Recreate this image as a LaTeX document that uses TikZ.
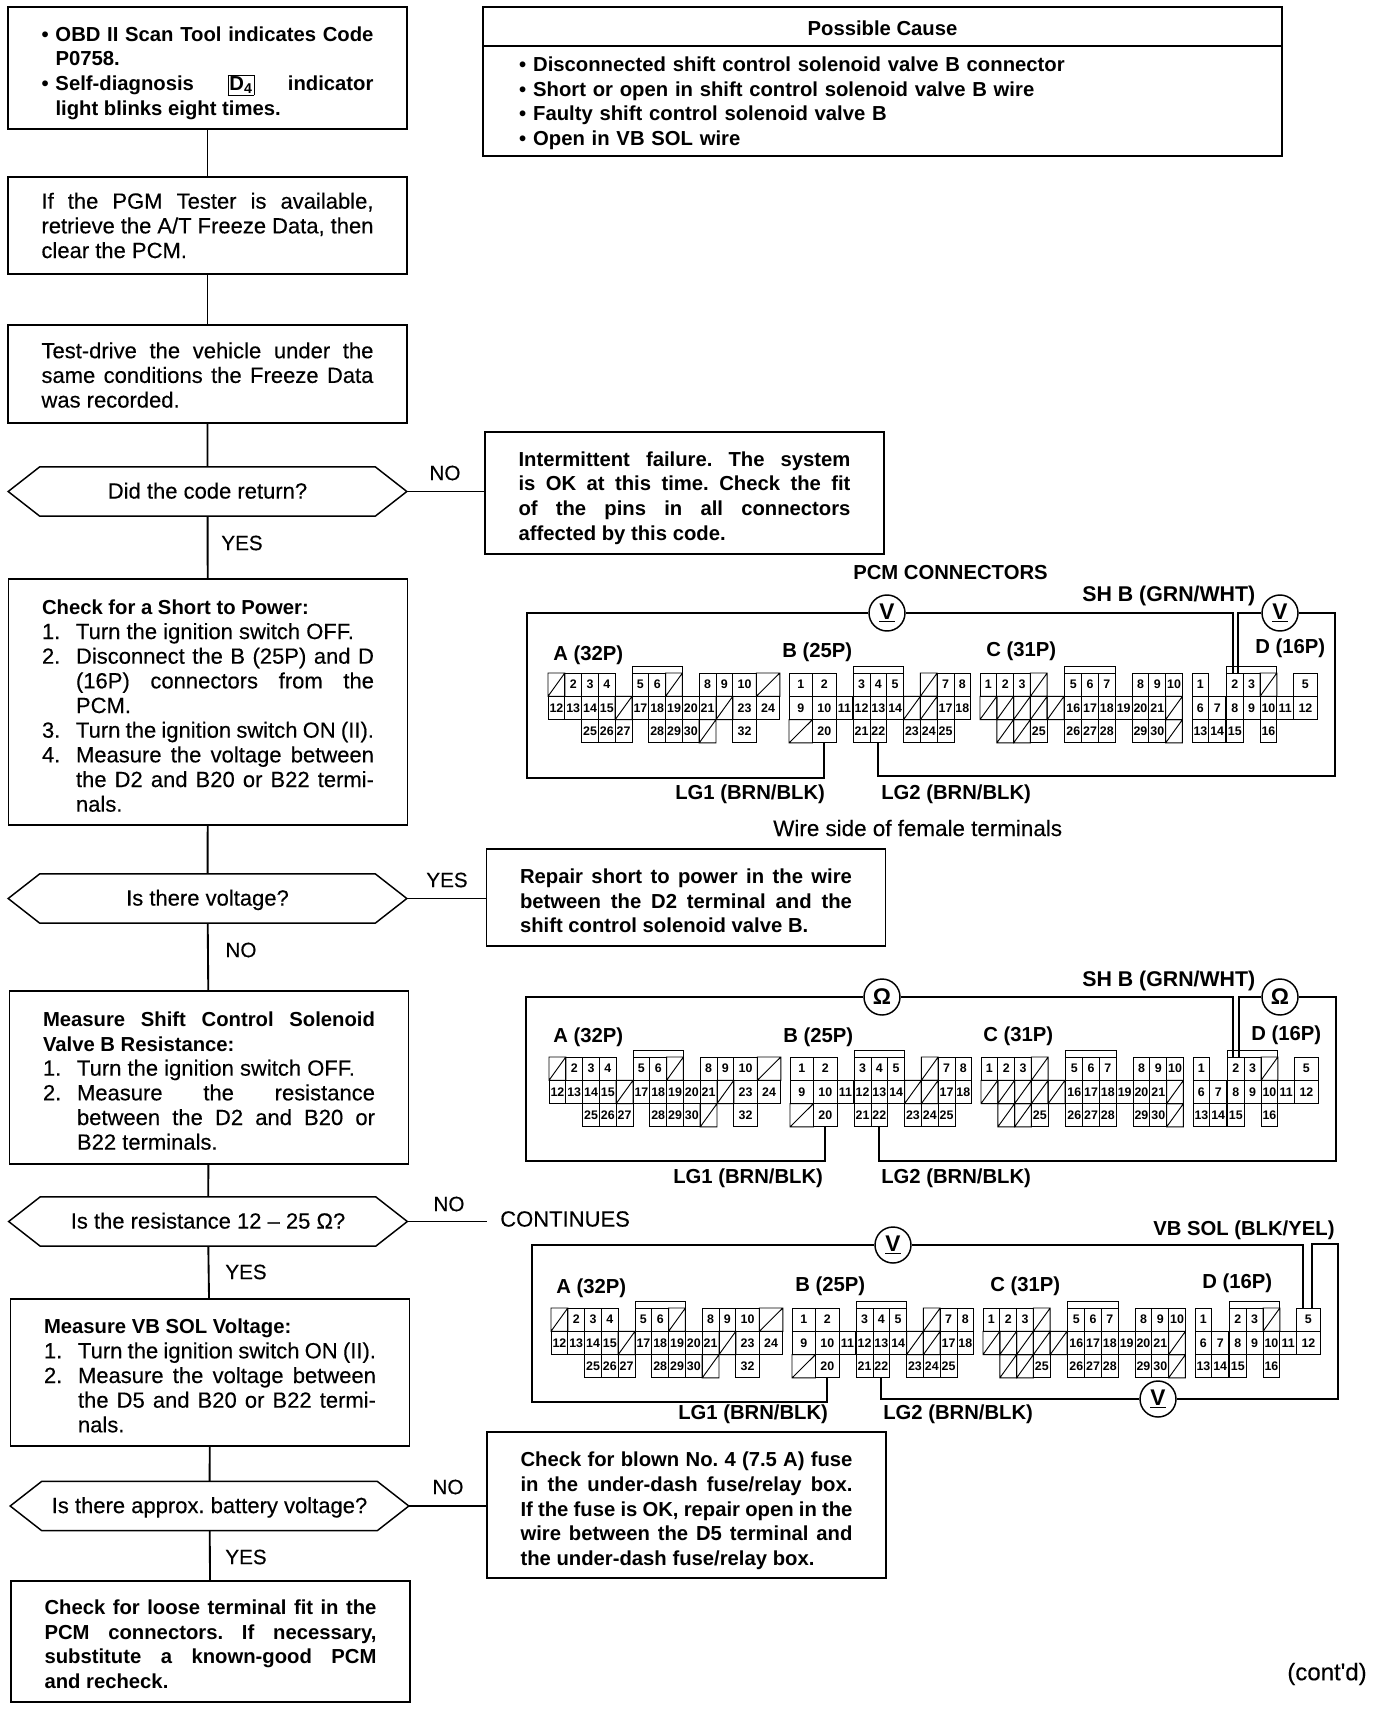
\documentclass[tikz,border=0pt]{standalone}
\usepackage{fontspec}
\setmainfont{Liberation Sans}
\newfontfamily\scanfont[FakeBold=0.3]{Liberation Sans}
\usetikzlibrary{shapes.symbols}
\frenchspacing
\tolerance=9999

\newcommand{\bodysize}{\scanfont\fontsize{16.5}{18.5}\selectfont}
\newcommand{\boldsize}{\normalfont\bfseries\fontsize{15.2}{18.5}\selectfont}
\newcommand{\stepitem}[2]{\par\noindent\hangindent=25.5pt\hangafter=1\hbox to 25.5pt{#1\hfil}#2\par}
\newcommand{\bulitem}[1]{\par\noindent\hangindent=10.5pt\hangafter=1\hbox to 10.5pt{\textbullet\hfil}#1\par}

\newcommand{\pinrows}[2]{\foreach \x/\y/\lab in {#2} \node[pin] (#1\lab) at (\x+.5,\y+.5) {\lab};}
\newcommand{\pinwide}[2]{\foreach \x/\y/\lab in {#2} \node[pin,minimum width=17.64pt] (#1\lab) at (\x+.7,\y+.5) {\lab};}
\newcommand{\hatchcells}[1]{\foreach \x/\y/\w in {#1} \draw[pinline] (\x,\y) rectangle +(\w,1) (\x,\y+1) -- +(\w,-1);}

\newcommand{\pcmpins}{
  \pinrows{a}{1/0/2,2/0/3,3/0/4,5/0/5,6/0/6,9/0/8,10/0/9,
    0/1/12,1/1/13,2/1/14,3/1/15,5/1/17,6/1/18,7/1/19,8/1/20,9/1/21,
    2/2/25,3/2/26,4/2/27,6/2/28,7/2/29,8/2/30}
  \pinwide{a}{11/0/10,11/1/23,12.4/1/24,11/2/32}
  \hatchcells{0/0/1,7/0/1,12.4/0/1.4,4/1/1,10/1/1,9/2/1}
  \draw[pinline] (5,0) |- (8,-.3) -- (8,0);
  \begin{scope}[xshift=180.75pt]
    \pinrows{b}{3.82/0/3,4.82/0/4,5.82/0/5,8.82/0/7,9.82/0/8,
      2.8/1/11,3.82/1/12,4.82/1/13,5.82/1/14,8.82/1/17,9.82/1/18,
      3.82/2/21,4.82/2/22,6.82/2/23,7.82/2/24,8.82/2/25}
    \pinwide{b}{0/0/1,1.4/0/2,0/1/9,1.4/1/10,1.4/2/20}
    \hatchcells{7.82/0/1,6.82/1/1,7.82/1/1,0/2/1.4}
    \draw[pinline] (3.82,0) |- (6.82,-.3) -- (6.82,0);
  \end{scope}
  \begin{scope}[xshift=324pt]
    \pinrows{c}{0/0/1,1/0/2,2/0/3,5.05/0/5,6.05/0/6,7.05/0/7,9.05/0/8,10.05/0/9,11.05/0/10,
      5.05/1/16,6.05/1/17,7.05/1/18,8.05/1/19,9.05/1/20,10.05/1/21,
      3/2/25,5.05/2/26,6.05/2/27,7.05/2/28,9.05/2/29,10.05/2/30}
    \hatchcells{3/0/1,0/1/1,1/1/1,2/1/1,3/1/1,4/1/1,11.05/1/1,1/2/1,2/2/1,11.05/2/1}
    \draw[pinline] (5.05,0) |- (8.05,-.3) -- (8.05,0);
  \end{scope}
  \begin{scope}[xshift=483pt]
    \pinrows{d}{0/0/1,2.05/0/2,3.05/0/3,
      0/1/6,1/1/7,2.05/1/8,3.05/1/9,4.05/1/10,5.05/1/11,
      0/2/13,1/2/14,2.05/2/15,4.05/2/16}
    \pinwide{d}{6.05/0/5,6.05/1/12}
    \hatchcells{4.05/0/1}
    \draw[pinline] (2.05,0) |- (5.05,-.3) -- (5.05,0);
  \end{scope}
}

\begin{document}
\begin{tikzpicture}[x=0.75pt,y=-0.75pt,
  flowbox/.style={draw,line width=1.1pt,rectangle,inner xsep=0pt,inner ysep=0pt,outer sep=0pt,
    text width=249pt,align=justify,minimum width=299pt,font=\bodysize},
  textdown/.style={execute at begin node={\rule{0pt}{\dimexpr 11pt+#1\relax}}},
  flowdec/.style={draw,line width=1.1pt,shape=signal,signal to=east and west,signal pointer angle=76,
    inner sep=0pt,outer sep=0pt,minimum width=299pt,minimum height=37pt,font=\bodysize,
    text height=13pt,text depth=2.4pt},
  flowlab/.style={anchor=center,inner sep=0pt,font=\scanfont\fontsize{15.5}{18}\selectfont},
  conlab/.style={anchor=west,inner sep=0pt,font=\bfseries\fontsize{15.2}{18}\selectfont},
  pin/.style={draw,pinline,rectangle,inner sep=0pt,outer sep=0pt,minimum width=12.6pt,minimum height=17.475pt,
    font=\bfseries\fontsize{9.3}{10}\selectfont},
  pinline/.style={line width=0.7pt},
  meter/.style={draw,line width=1.1pt,circle,fill=white,inner sep=0pt,minimum size=27pt,
    font=\bfseries\fontsize{17}{18}\selectfont},
  wire/.style={line width=1.4pt}]
  \useasboundingbox (0,0) rectangle (1376,1710);

  \node[flowbox,minimum height=91.5pt,font=\boldsize] (start) at (207.5,68)
    {\bulitem{OBD II Scan Tool indicates Code\linebreak P0758.}
     \bulitem{Self-diagnosis \fboxsep=1pt\fbox{D\textsubscript{4}} indicator\linebreak light blinks eight times.}};
  \node[flowbox,minimum height=73pt] (freeze) at (207.5,225.5)
    {If the PGM Tester is available,\linebreak retrieve the A/T Freeze Data, then\linebreak clear the PCM.};
  \node[flowbox,minimum height=73.5pt,textdown=2.5pt] (drive) at (207.5,374)
    {Test-drive the vehicle under the\linebreak same conditions the Freeze Data\linebreak was recorded.};
  \node[flowdec] (coderet) at (207.5,491.5) {Did the code return?};
  \node[flowbox,minimum height=91.5pt,font=\boldsize,textdown=7.4pt] (intermit) at (684.5,493)
    {\leftskip=2.2pt\rightskip=-2.2pt Intermittent failure. The system\linebreak is OK at this time. Check the fit\linebreak of the pins in all connectors\linebreak affected by this code.};
  \node[flowbox,minimum height=184.5pt,textdown=5.7pt] (shortchk) at (208,702)
    {{\boldsize Check for a Short to Power:}\par
     \stepitem{1.}{Turn the ignition switch OFF.}
     \stepitem{2.}{Disconnect the B (25P) and D\linebreak (16P) connectors from the\linebreak PCM.}
     \stepitem{3.}{Turn the ignition switch ON (II).}
     \stepitem{4.}{Measure the voltage between\linebreak the D2 and B20 or B22 termi-\linebreak nals.}};
  \node[flowdec] (voltage) at (207.5,898.5) {Is there voltage?};
  \node[flowbox,minimum height=73pt,font=\boldsize,textdown=4.9pt] (repair) at (686,897.5)
    {Repair short to power in the wire\linebreak between the D2 terminal and the\linebreak shift control solenoid valve B.};
  \node[flowbox,minimum height=130pt,textdown=4.9pt] (resist) at (209,1077.5)
    {{\boldsize Measure Shift Control Solenoid\linebreak Valve B Resistance:}\par
     \stepitem{1.}{Turn the ignition switch OFF.}
     \stepitem{2.}{Measure the resistance\linebreak between the D2 and B20 or\linebreak B22 terminals.}};
  \node[flowdec] (ohmdec) at (208,1221.5) {Is the resistance 12 – 25 Ω?};
  \coordinate (contend) at (487,1221.5);
  \node[conlab,font=\scanfont\fontsize{16.5}{18}\selectfont] (contin) at (500,1219) {CONTINUES};
  \node[flowbox,minimum height=110pt,textdown=4.9pt] (vbsol) at (210,1372.5)
    {{\boldsize Measure VB SOL Voltage:}\par
     \stepitem{1.}{Turn the ignition switch ON (II).}
     \stepitem{2.}{Measure the voltage between\linebreak the D5 and B20 or B22 termi-\linebreak nals.}};
  \node[flowdec] (battery) at (209.5,1506) {Is there approx. battery voltage?};
  \node[flowbox,minimum height=109.5pt,font=\boldsize,textdown=9pt] (fuse) at (686.5,1505)
    {Check for blown No. 4 (7.5 A) fuse\linebreak in the under-dash fuse/relay box.\linebreak If the fuse is OK, repair open in the\linebreak wire between the D5 terminal and\linebreak the under-dash fuse/relay box.};
  \node[flowbox,minimum height=91pt,font=\boldsize,textdown=4pt] (recheck) at (210.5,1641.5)
    {Check for loose terminal fit in the\linebreak PCM connectors. If necessary,\linebreak substitute a known-good PCM\linebreak and recheck.};

  \node[draw,line width=1.1pt,rectangle,inner sep=0pt,outer sep=0pt,minimum width=599pt,minimum height=29.5pt,
    text height=16.5pt,text depth=3pt,font=\boldsize] (causehead) at (882.5,26.5) {Possible Cause};
  \node[draw,line width=1.1pt,rectangle,inner sep=0pt,outer sep=0pt,minimum width=599pt,minimum height=82.5pt,
    text width=545pt,align=left,font=\boldsize,anchor=north] (causes) at (causehead.south)
    {\bulitem{Disconnected shift control solenoid valve B connector}
     \bulitem{Short or open in shift control solenoid valve B wire}
     \bulitem{Faulty shift control solenoid valve B}
     \bulitem{Open in VB SOL wire\rule[-7.3pt]{0pt}{1pt}}};

  \draw[wire] (start) -- (freeze);
  \draw[wire] (freeze) -- (drive);
  \draw[wire] (drive) -- (coderet);
  \draw[wire] (coderet) -- (shortchk);
  \draw[wire] (shortchk) -- (voltage);
  \draw[wire] (voltage) -- (resist);
  \draw[wire] (resist) -- (ohmdec);
  \draw[wire] (ohmdec) -- (vbsol);
  \draw[wire] (vbsol) -- (battery);
  \draw[wire] (battery) -- (recheck);
  \draw[wire] (coderet.east) -- (coderet.east -| intermit.west);
  \draw[wire] (voltage.east) -- (voltage.east -| repair.west);
  \draw[wire] (ohmdec.east) -- (contend);
  \draw[wire] (battery.east) -- (battery.east -| fuse.west);

  \node[flowlab] (yes1) at (242,543) {YES};
  \node[flowlab] (no1) at (445,473) {NO};
  \node[flowlab] (no2) at (241,950) {NO};
  \node[flowlab] (yes2) at (447,880) {YES};
  \node[flowlab] (no3) at (449,1204) {NO};
  \node[flowlab] (yes3) at (246,1272) {YES};
  \node[flowlab] (no4) at (448,1487) {NO};
  \node[flowlab] (yes4) at (246,1557) {YES};
  \node[flowlab,font=\scanfont\fontsize{18}{18}\selectfont] (contd) at (1327,1674) {(cont'd)};

  \begin{scope}[shift={(548,673)},x=12.6pt,y=-17.475pt,name prefix=p1-]
    \pcmpins
  \end{scope}
  \node[meter] (m1a) at (887,613) {\underline{V}};
  \node[meter] (m1b) at (1280,613) {\underline{V}};
  \draw[wire] (m1a.west) -| (527,778) -| (p1-b20.south);
  \draw[wire] (p1-b22.south) |- (1335,776) |- (m1b.east);
  \draw[wire] (m1a.east) -| ([xshift=-1.5pt]p1-d2.north);
  \draw[wire] (m1b.west) -| ([xshift=2.25pt]p1-d2.north);
  \node[conlab] (pcmtitle) at (853,573) {PCM CONNECTORS};
  \node[conlab,font=\bfseries\fontsize{16}{18}\selectfont] (shb1) at (1082,596) {SH B (GRN/WHT)};
  \node[conlab] (a1) at (553,655) {A (32P)};
  \node[conlab] (b1) at (782,652) {B (25P)};
  \node[conlab] (c1) at (986,651) {C (31P)};
  \node[conlab] (d1) at (1255,648) {D (16P)};
  \node[conlab] (lga1) at (675,794) {LG1 (BRN/BLK)};
  \node[conlab] (lgb1) at (881,794) {LG2 (BRN/BLK)};
  \node[conlab,font=\scanfont\fontsize{16.8}{18}\selectfont] (wireside) at (773,828) {Wire side of female terminals};

  \begin{scope}[shift={(549,1057)},x=12.6pt,y=-17.475pt,name prefix=p2-]
    \pcmpins
  \end{scope}
  \node[meter] (m2a) at (882,997) {Ω};
  \node[meter] (m2b) at (1280,997) {Ω};
  \draw[wire] (m2a.west) -| (526,1161) -| (p2-b20.south);
  \draw[wire] (p2-b22.south) |- (1336,1161) |- (m2b.east);
  \draw[wire] (m2a.east) -| ([xshift=-2pt]p2-d2.north);
  \draw[wire] (m2b.west) -| ([xshift=2.5pt]p2-d2.north);
  \node[conlab,font=\bfseries\fontsize{16}{18}\selectfont] (shb2) at (1082,981) {SH B (GRN/WHT)};
  \node[conlab] (a2) at (553,1037) {A (32P)};
  \node[conlab] (b2) at (783,1037) {B (25P)};
  \node[conlab] (c2) at (983,1036) {C (31P)};
  \node[conlab] (d2) at (1251,1035) {D (16P)};
  \node[conlab] (lga2) at (673,1178) {LG1 (BRN/BLK)};
  \node[conlab] (lgb2) at (881,1178) {LG2 (BRN/BLK)};

  \begin{scope}[shift={(551,1308)},x=12.6pt,y=-17.475pt,name prefix=p3-]
    \pcmpins
  \end{scope}
  \node[meter] (m3a) at (893,1245) {\underline{V}};
  \node[meter] (m3b) at (1158,1399) {\underline{V}};
  \draw[wire] (m3a.west) -| (532,1402) -| (p3-b20.south);
  \draw[wire] (p3-b22.south) |- (m3b.west);
  \draw[wire] (m3b.east) -| (1338,1244) -| ([xshift=2.6pt]p3-d5.north);
  \draw[wire] (m3a.east) -| ([xshift=-3.75pt]p3-d5.north);
  \node[conlab] (vbsoltxt) at (1153,1230) {VB SOL (BLK/YEL)};
  \node[conlab] (a3) at (556,1288) {A (32P)};
  \node[conlab] (b3) at (795,1286) {B (25P)};
  \node[conlab] (c3) at (990,1286) {C (31P)};
  \node[conlab] (d3) at (1202,1283) {D (16P)};
  \node[conlab] (lga3) at (678,1414) {LG1 (BRN/BLK)};
  \node[conlab] (lgb3) at (883,1414) {LG2 (BRN/BLK)};
\end{tikzpicture}
\end{document}
